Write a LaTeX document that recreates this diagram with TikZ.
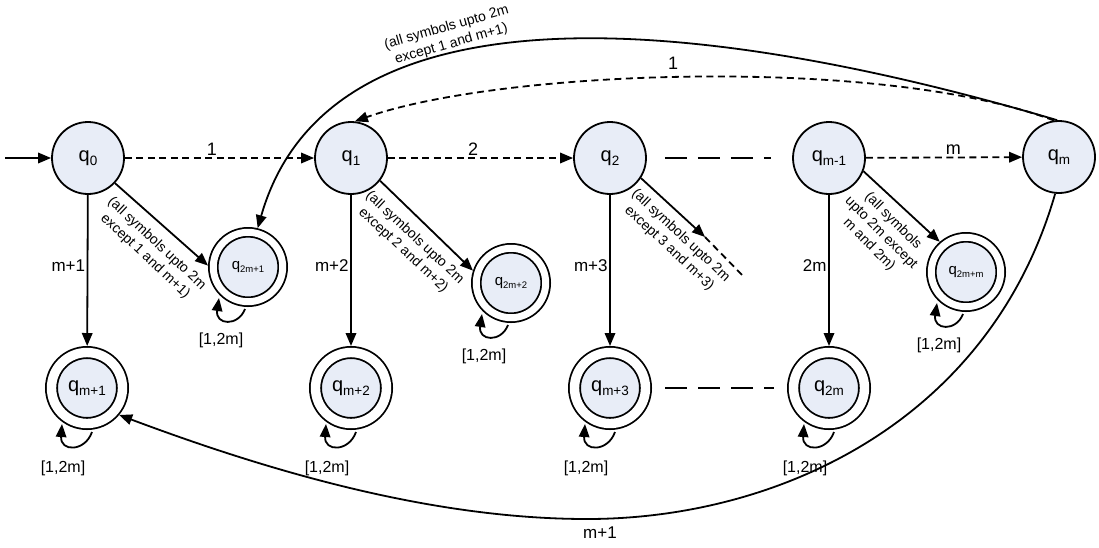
\documentclass[tikz,border=0pt]{standalone}
\usepackage{fontspec}
\setmainfont{Liberation Sans}
\usetikzlibrary{arrows.meta,calc}
\definecolor{statefill}{RGB}{232,237,247}
% state names: q with a lowered index
\newcommand{\qsub}[1]{{\fontsize{20}{20}\selectfont q}\raisebox{-4pt}{\fontsize{13.5}{13.5}\selectfont #1}}
\newcommand{\qsmall}[1]{{\fontsize{15}{15}\selectfont q}\raisebox{-3pt}{\fontsize{9.5}{9.5}\selectfont #1}}

\begin{document}
\begin{tikzpicture}[x=1pt,y=-1pt,line width=1.8pt,
  >={Triangle[length=13pt,width=10.5pt]},
  state/.style={circle,draw,fill=statefill,minimum size=72pt,inner sep=0pt},
  final/.style={circle,draw,fill=statefill,double,double distance=9.4pt,
                minimum size=71pt,inner sep=0pt,outer sep=6.5pt},
  finalsm/.style={circle,draw,fill=statefill,double,double distance=7pt,
                minimum size=69.4pt,inner sep=0pt,outer sep=5.3pt},
  dashtrans/.style={->,dash pattern=on 7pt off 4.5pt},
  shortdash/.style={dash pattern=on 7pt off 4.5pt},
  gapline/.style={dash pattern=on 22pt off 11pt},
  lbl/.style={font=\fontsize{18}{18}\selectfont,inner sep=2pt},
  vlbl/.style={font=\fontsize{17}{17}\selectfont,anchor=east,inner sep=1.5pt},
  looplbl/.style={font=\fontsize{16}{16}\selectfont,inner sep=0pt},
  rotlbl/.style={font=\fontsize{14}{17}\selectfont,align=center,inner sep=0pt}]
\useasboundingbox (0,0) rectangle (1099,547);

% main chain
\node[state] (q0)  at (88,158)   {\qsub{0}};
\node[state] (q1)  at (351,158)  {\qsub{1}};
\node[state] (q2)  at (610,158)  {\qsub{2}};
\node[state] (qm1) at (829,158)  {\qsub{m-1}};
\node[state] (qm)  at (1059,157) {\qsub{m}};

% accepting states, bottom row
\node[final] (f1) at (87,388)  {\qsub{m+1}};
\node[final] (f2) at (351,388) {\qsub{m+2}};
\node[final] (f3) at (610,388) {\qsub{m+3}};
\node[final] (f4) at (829,388) {\qsub{2m}};

% accepting states, middle row
\node[finalsm] (s1) at (248,267) {\qsmall{2m+1}};
\node[finalsm] (s2) at (511,283) {\qsmall{2m+2}};
\node[finalsm] (s3) at (966,272) {\qsmall{2m+m}};

% initial arrow
\coordinate (init) at (5,158);
\draw[->] (init) -- (q0);

% chain transitions
\draw[dashtrans] (q0) -- node[lbl,above,pos=0.46]{1} (q1);
\draw[dashtrans] (q1) -- node[lbl,above,pos=0.46]{2} (q2);
\draw[dashtrans] (qm1) -- node[lbl,above,pos=0.56]{m} (qm);
\coordinate (g1) at ($(q2.east)+(18,0)$);
\coordinate (g2) at ($(qm1.west)+(-21,0)$);
\draw[gapline] (g1) -- (g2);
\coordinate (g3) at ($(f3.east)+(13,0)$);
\coordinate (g4) at ($(f4.west)+(-13,0)$);
\draw[gapline] (g3) -- (g4);

% downward transitions
\draw[->] (q0)  -- node[vlbl,pos=0.47]{m+1} (f1);
\draw[->] (q1)  -- node[vlbl,pos=0.47]{m+2} (f2);
\draw[->] (q2)  -- node[vlbl,pos=0.47]{m+3} (f3);
\draw[->] (qm1) -- node[vlbl,pos=0.47]{2m}  (f4);

% diagonal transitions
\draw[->] (q0.-43) -- (s1.178);
\node[rotlbl,rotate=-43] at (151,250) {(all symbols upto 2m\\except 1 and m+1)};
\draw[->] (q1.-38) -- (s2.162);
\node[rotlbl,rotate=-43] at (409,244) {(all symbols upto 2m\\except 2 and m+2)};
\coordinate (c2)  at (705,237);
\coordinate (c2e) at (745,278);
\draw[->] (q2.-33) -- (c2);
\draw[shortdash] (c2) -- (c2e);
\node[rotlbl,rotate=-43] at (675,242) {(all symbols upto 2m\\except 3 and m+3)};
\draw[->] (qm1.-21) -- (s3.131);
\node[rotlbl,rotate=-45] at (881,233) {(all symbols\\upto 2m except\\m and 2m)};

% self loops
\foreach \n in {f1,f2,f3,f4} {
  \draw[->] ($(\n)+(5,44)$) .. controls ($(\n)+(-2,64)$) and ($(\n)+(-27,64)$) .. ($(\n)+(-25,36)$);
  \node[looplbl] at ($(\n)+(-24,80)$) {[1,2m]};
}
\foreach \n in {s1,s2,s3} {
  \draw[->] ($(\n)+(-3,42)$) .. controls ($(\n)+(-10,60)$) and ($(\n)+(-33,58)$) .. ($(\n)+(-29,31)$);
  \node[looplbl] at ($(\n)+(-27,73)$) {[1,2m]};
}

% long transitions out of q_m
\draw[->] (qm.93) .. controls (820,50) and (340,-60) .. (s1.76);
\node[rotlbl,rotate=16] at (449,36) {(all symbols upto 2m\\except 1 and m+1)};
\draw[dashtrans] (qm.98) .. controls (880,55) and (500,70) .. (q1.84);
\node[lbl] at (673,63) {1};
\coordinate (low) at (587,519);
\draw[->] (qm.-96) .. controls (990,420) and (780,519) .. (low)
                   .. controls (430,519) and (266,470) .. (f1.-40);
\node[font=\fontsize{17}{17}\selectfont] at (600,533) {m+1};
\end{tikzpicture}
\end{document}
